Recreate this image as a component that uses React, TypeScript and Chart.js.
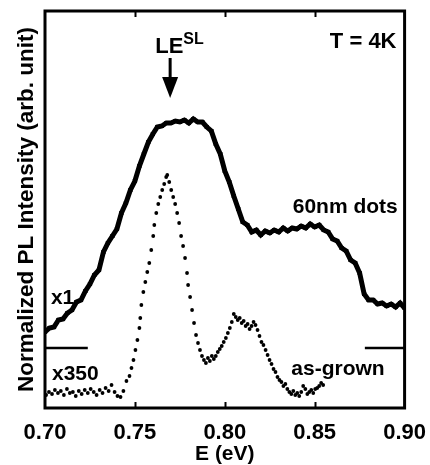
import React, { useEffect, useRef } from "react";
import { Chart, registerables } from "chart.js";

Chart.register(...registerables);

// ---- Data (E in eV, intensity in arbitrary units) ----
const X_TICKS = [0.7, 0.75, 0.8, 0.85, 0.9];

const E_DOTS = [
  0.7, 0.7025, 0.705, 0.7075, 0.71, 0.7125, 0.715, 0.7175, 0.72, 0.7225,
  0.725, 0.7275, 0.73, 0.7325, 0.735, 0.7375, 0.74, 0.7425, 0.745, 0.7475,
  0.75, 0.7525, 0.755, 0.7575, 0.76, 0.7625, 0.765, 0.7675, 0.77, 0.7725,
  0.775, 0.7775, 0.78, 0.7825, 0.785, 0.7875, 0.79, 0.7925, 0.795, 0.7975,
  0.8, 0.8025, 0.805, 0.8075, 0.81, 0.8125, 0.815, 0.8175, 0.82, 0.8225,
  0.825, 0.8275, 0.83, 0.8325, 0.835, 0.8375, 0.84, 0.8425, 0.845, 0.8475,
  0.85, 0.8525, 0.855, 0.8575, 0.86, 0.8625, 0.865, 0.8675, 0.87, 0.8725,
  0.875, 0.8775, 0.88, 0.8825, 0.885, 0.8875, 0.89, 0.8925, 0.895, 0.8975, 0.9,
];
const I_DOTS = [
  76, 80, 81, 88, 89, 95, 98, 106, 108, 117,
  124, 133, 138, 156, 165, 172, 179, 195, 205, 218,
  227, 242, 254, 266, 274, 281, 282, 285, 285, 287,
  286, 288, 285, 289, 286, 286, 281, 277, 264, 254,
  237, 226, 212, 199, 186, 183, 176, 178, 173, 177,
  175, 178, 176, 180, 177, 180, 179, 182, 180, 184,
  181, 183, 178, 176, 169, 167, 160, 157, 148, 145,
  135, 114, 108, 108, 104, 105, 102, 104, 101, 105, 100,
];

const E_ASGROWN = [
  0.7006, 0.7022, 0.7039, 0.7055, 0.7072, 0.7088, 0.7105, 0.7122, 0.7138, 0.7155,
  0.7171, 0.7188, 0.7204, 0.7221, 0.7238, 0.7254, 0.7271, 0.7287, 0.7304, 0.732,
  0.7337, 0.7354, 0.737, 0.7387, 0.7403, 0.742, 0.7436, 0.7453, 0.747, 0.7481,
  0.7492, 0.7503, 0.7514, 0.7525, 0.753, 0.7536, 0.7547, 0.7558, 0.7569, 0.758,
  0.7591, 0.7602, 0.7608, 0.7619, 0.763, 0.7641, 0.7652, 0.7663, 0.7674, 0.768,
  0.7691, 0.7702, 0.7713, 0.7724, 0.7735, 0.7746, 0.7757, 0.7768, 0.7779, 0.779,
  0.7796, 0.7807, 0.7818, 0.7829, 0.784, 0.7851, 0.7862, 0.7873, 0.7884, 0.7895,
  0.7906, 0.7917, 0.7928, 0.7939, 0.795, 0.7961, 0.7972, 0.7983, 0.7994, 0.8006,
  0.8017, 0.8028, 0.8039, 0.805, 0.8061, 0.8072, 0.8083, 0.8094, 0.8105, 0.8116,
  0.8127, 0.8138, 0.8149, 0.816, 0.8171, 0.8182, 0.8193, 0.8204, 0.8215, 0.8227,
  0.8238, 0.8249, 0.826, 0.8271, 0.8282, 0.8293, 0.8304, 0.8315, 0.8326, 0.8337,
  0.8348, 0.8359, 0.837, 0.8381, 0.8392, 0.8403, 0.8414, 0.8425, 0.8436, 0.8448,
  0.8459, 0.847, 0.8481, 0.8492, 0.8503, 0.8514, 0.8525, 0.8536, 0.8547,
];
const I_ASGROWN = [
  13, 16, 14, 18, 15, 17, 13, 19, 15, 16,
  12, 17, 14, 18, 15, 19, 16, 13, 18, 15,
  20, 17, 23, 16, 12, 11, 17, 27, 32, 40,
  48, 58, 68, 80, 90, 103, 116, 126, 136, 145,
  158, 172, 183, 195, 204, 211, 218, 224, 231, 233,
  226, 218, 211, 204, 195, 185, 172, 162, 150, 135,
  123, 111, 98, 85, 73, 65, 58, 52, 48, 45,
  50, 47, 52, 49, 52, 56, 59, 62, 66, 70,
  75, 80, 86, 94, 91, 88, 90, 85, 87, 82,
  84, 79, 82, 86, 83, 78, 72, 66, 63, 58,
  53, 48, 44, 39, 36, 31, 28, 26, 22, 24,
  19, 16, 14, 17, 13, 15, 12, 16, 22, 19,
  14, 16, 18, 15, 19, 20, 22, 25, 23,
];

const BASE_LEFT_E = [0.7, 0.7238];
const BASE_RIGHT_E = [0.8779, 0.9];
const BASE_LEVEL = 60;

const FONT = '"Liberation Sans", Arial, Helvetica, sans-serif';

const pts = (xs: number[], ys: number[]) => xs.map((x, i) => ({ x, y: ys[i] }));

const annotations = {
  id: "annotations",
  afterDatasetsDraw(chart: any) {
    const { ctx, chartArea, scales } = chart;
    const xs = scales.x;
    const ys = scales.y;
    const X = (v: number) => xs.getPixelForValue(v);
    const Y = (v: number) => ys.getPixelForValue(v);
    ctx.save();
    // frame
    ctx.strokeStyle = "#000";
    ctx.lineWidth = 3;
    ctx.strokeRect(chartArea.left, chartArea.top, chartArea.right - chartArea.left, chartArea.bottom - chartArea.top);
    // inward ticks top & bottom
    ctx.lineWidth = 2;
    X_TICKS.slice(1, -1).forEach((t) => {
      const px = Math.round(X(t)) + 0.5;
      ctx.beginPath();
      ctx.moveTo(px, chartArea.top);
      ctx.lineTo(px, chartArea.top + 6);
      ctx.moveTo(px, chartArea.bottom);
      ctx.lineTo(px, chartArea.bottom - 6);
      ctx.stroke();
    });
    // texts
    ctx.fillStyle = "#000";
    ctx.textBaseline = "alphabetic";
    ctx.font = `bold 22px ${FONT}`;
    ctx.textAlign = "right";
    ctx.fillText("T = 4K", X(0.8955), Y(360));
    ctx.textAlign = "left";
    ctx.font = `bold 21px ${FONT}`;
    ctx.fillText("60nm dots", X(0.8378), Y(195));
    ctx.fillText("x1", X(0.7033), Y(104));
    ctx.fillText("x350", X(0.7039), Y(28));
    ctx.fillText("as-grown", X(0.837), Y(33));
    // LE^SL
    ctx.font = `bold 22px ${FONT}`;
    const lx = X(0.7613);
    ctx.fillText("LE", lx, Y(355));
    const w = ctx.measureText("LE").width;
    ctx.font = `bold 16px ${FONT}`;
    ctx.fillText("SL", lx + w, Y(364));
    // arrow
    const ax = X(0.7696);
    ctx.lineWidth = 3;
    ctx.beginPath();
    ctx.moveTo(ax, Y(350));
    ctx.lineTo(ax, Y(328));
    ctx.stroke();
    ctx.beginPath();
    ctx.moveTo(ax - 8, Y(331));
    ctx.lineTo(ax + 8, Y(331));
    ctx.lineTo(ax, Y(310));
    ctx.closePath();
    ctx.fill();
    ctx.restore();
  },
};

export default function App() {
  const ref = useRef<HTMLCanvasElement>(null);
  useEffect(() => {
    if (!ref.current) return;
    const chart = new Chart(ref.current, {
      type: "scatter",
      data: {
        datasets: [
          {
            label: "60nm dots",
            data: pts(E_DOTS, I_DOTS),
            showLine: true,
            borderColor: "#000",
            backgroundColor: "#000",
            borderWidth: 5,
            pointStyle: "rect",
            pointRadius: 3,
            pointBorderWidth: 0,
          },
          {
            label: "as-grown",
            data: pts(E_ASGROWN, I_ASGROWN),
            showLine: false,
            borderColor: "#000",
            backgroundColor: "#000",
            pointRadius: 1.9,
            pointBorderWidth: 0,
          },
          {
            label: "base left",
            data: pts(BASE_LEFT_E, [BASE_LEVEL, BASE_LEVEL]),
            showLine: true,
            borderColor: "#000",
            borderWidth: 2.5,
            pointRadius: 0,
          },
          {
            label: "base right",
            data: pts(BASE_RIGHT_E, [BASE_LEVEL, BASE_LEVEL]),
            showLine: true,
            borderColor: "#000",
            borderWidth: 2.5,
            pointRadius: 0,
          },
        ],
      },
      options: {
        animation: false,
        responsive: false,
        layout: { padding: { left: 0, right: 23, top: 11, bottom: 0 } },
        plugins: { legend: { display: false }, tooltip: { enabled: false }, title: { display: false } },
        scales: {
          x: {
            type: "linear",
            min: 0.7,
            max: 0.9,
            afterBuildTicks: (s: any) => {
              s.ticks = X_TICKS.map((v) => ({ value: v }));
            },
            afterFit: (s: any) => {
              s.height = 57;
            },
            grid: { display: false },
            border: { display: false },
            ticks: {
              color: "#000",
              font: { family: FONT, size: 22, weight: "bold" },
              padding: 4,
              maxRotation: 0,
              autoSkip: false,
              callback: (v: any) => Number(v).toFixed(2),
            },
            title: {
              display: true,
              text: "E (eV)",
              color: "#000",
              font: { family: FONT, size: 21, weight: "bold", lineHeight: 1 },
              padding: { top: 0, bottom: 0 },
            },
          },
          y: {
            type: "linear",
            min: 0,
            max: 397,
            afterFit: (s: any) => {
              s.width = 45;
            },
            grid: { display: false },
            border: { display: false },
            ticks: { display: false },
            title: {
              display: true,
              text: "Normalized PL Intensity (arb. unit)",
              color: "#000",
              font: { family: FONT, size: 22.5, weight: "bold", lineHeight: 1 },
              padding: { top: 16, bottom: 0 },
            },
          },
        },
      },
      plugins: [annotations],
    });
    return () => chart.destroy();
  }, []);
  return (
    <div style={{ position: "absolute", left: 0, top: 0, width: 430, height: 465, background: "#fff" }}>
      <canvas ref={ref} width={430} height={465} style={{ width: 430, height: 465 }} />
    </div>
  );
}
